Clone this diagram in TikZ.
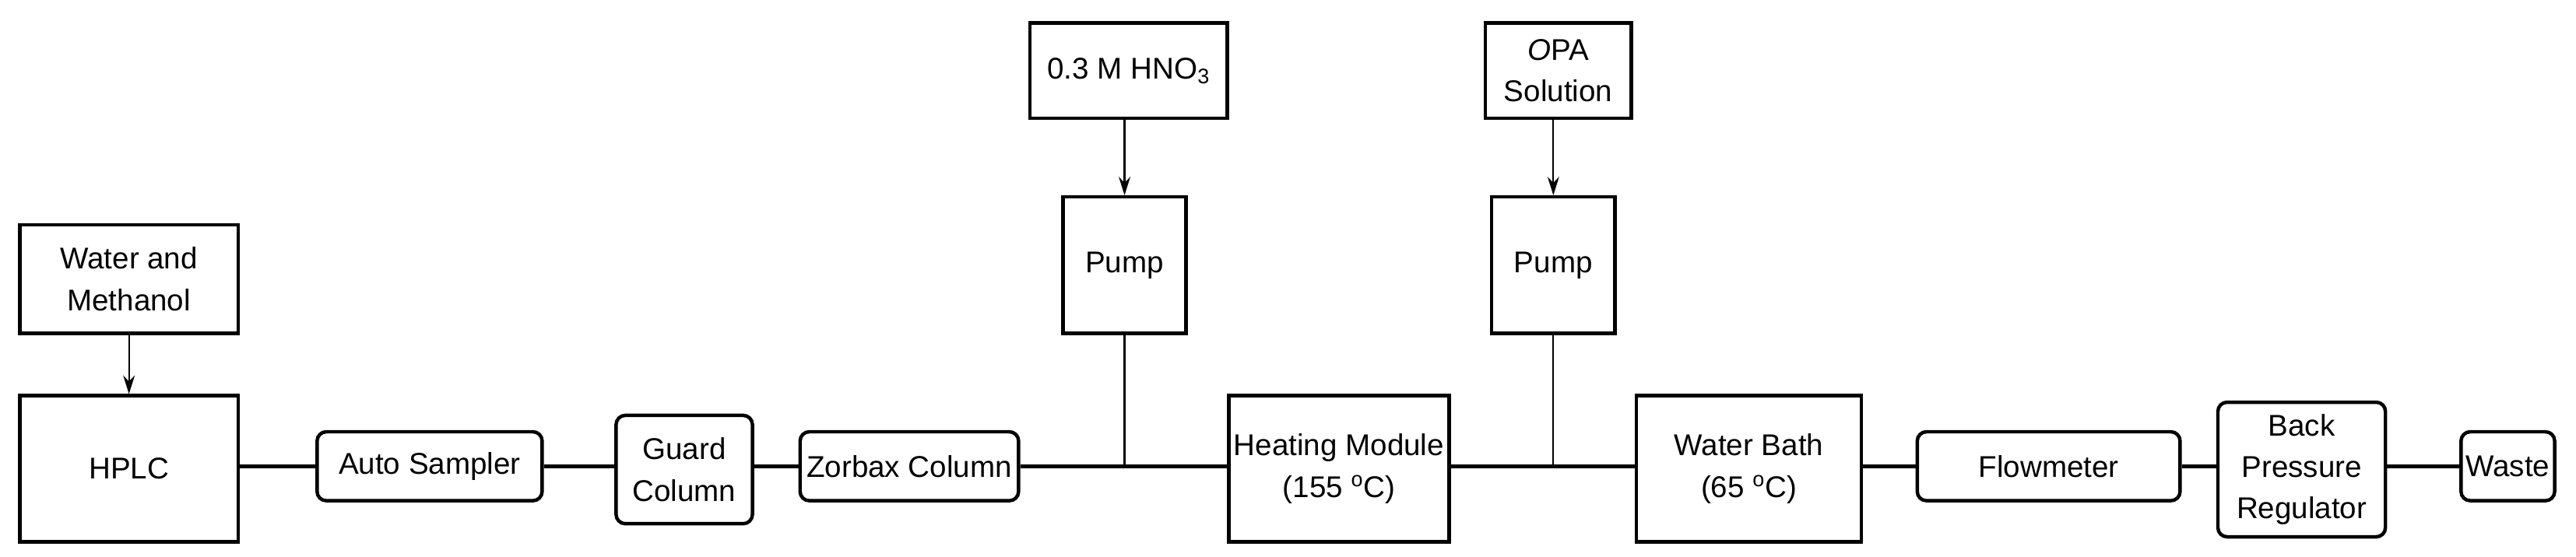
\documentclass[tikz,border=0pt]{standalone}
\usepackage{fontspec}
\setmainfont{Liberation Sans}
\usetikzlibrary{arrows.meta}
\begin{document}
\begin{tikzpicture}[x=0.05cm,y=0.05cm,
  box/.style={draw, line width=3pt, inner sep=0pt, align=center, font=\fontsize{26}{36}\selectfont},
  rbox/.style={box, rounded corners=8pt},
  pipe/.style={line width=3pt},
  feed/.style={line width=1.5pt, -{Stealth[length=16pt,width=10pt]}}]
\useasboundingbox (0,0) rectangle (1568,339);
\node[box, minimum width=6.65cm, minimum height=4.45cm] (hplc) at (78.5,53.5) {HPLC};
\node[box, minimum width=6.65cm, minimum height=3.3cm] (wm) at (78.5,169) {Water and\\Methanol};
\node[rbox, minimum width=6.85cm, minimum height=2.1cm] (as) at (261.5,55) {Auto Sampler};
\node[rbox, minimum width=4.15cm, minimum height=3.3cm] (gc) at (416.5,53) {Guard\\Column};
\node[rbox, minimum width=6.65cm, minimum height=2.1cm] (zc) at (553.5,55) {Zorbax Column};
\node[box, minimum width=6cm, minimum height=2.9cm] (hno) at (687,296) {0.3 M HNO\textsubscript{3}};
\node[box, minimum width=3.75cm, minimum height=4.15cm] (p1) at (684.5,177.5) {Pump};
\node[box, minimum width=6.7cm, minimum height=4.45cm] (hm) at (815,53.5) {Heating Module\\(155 \textsuperscript{o}C)};
\node[box, minimum width=4.45cm, minimum height=2.9cm] (opa) at (948.5,296) {\textit{O}PA\\Solution};
\node[box, minimum width=3.75cm, minimum height=4.15cm] (p2) at (945.5,177.5) {Pump};
\node[box, minimum width=6.85cm, minimum height=4.45cm] (wb) at (1064.5,53.5) {Water Bath\\(65 \textsuperscript{o}C)};
\node[rbox, minimum width=8cm, minimum height=2.1cm] (fm) at (1247,55) {Flowmeter};
\node[rbox, minimum width=5.1cm, minimum height=4.1cm] (bpr) at (1401,53) {Back\\Pressure\\Regulator};
\node[rbox, minimum width=2.85cm, minimum height=2.1cm] (w) at (1526.5,55) {Waste};
\draw[pipe] (hplc.east|-as.west) -- (as.west);
\draw[pipe] (as.east) -- (gc.west|-as.east);
\draw[pipe] (gc.east|-zc.west) -- (zc.west);
\draw[pipe] (zc.east) -- (hm.west|-zc.east);
\draw[pipe] (hm.east|-fm.west) -- (wb.west|-fm.west);
\draw[pipe] (wb.east|-fm.west) -- (fm.west);
\draw[pipe] (fm.east) -- (bpr.west|-fm.east);
\draw[pipe] (bpr.east|-w.west) -- (w.west);
\draw[line width=1.5pt] (p1.south) -- (p1.south|-zc.east);
\draw[line width=1.5pt] (p2.south) -- (p2.south|-fm.west);
\draw[feed] (wm.south) -- (hplc.north);
\draw[feed] (hno.south-|p1.north) -- (p1.north);
\draw[feed] (opa.south-|p2.north) -- (p2.north);
\end{tikzpicture}
\end{document}
